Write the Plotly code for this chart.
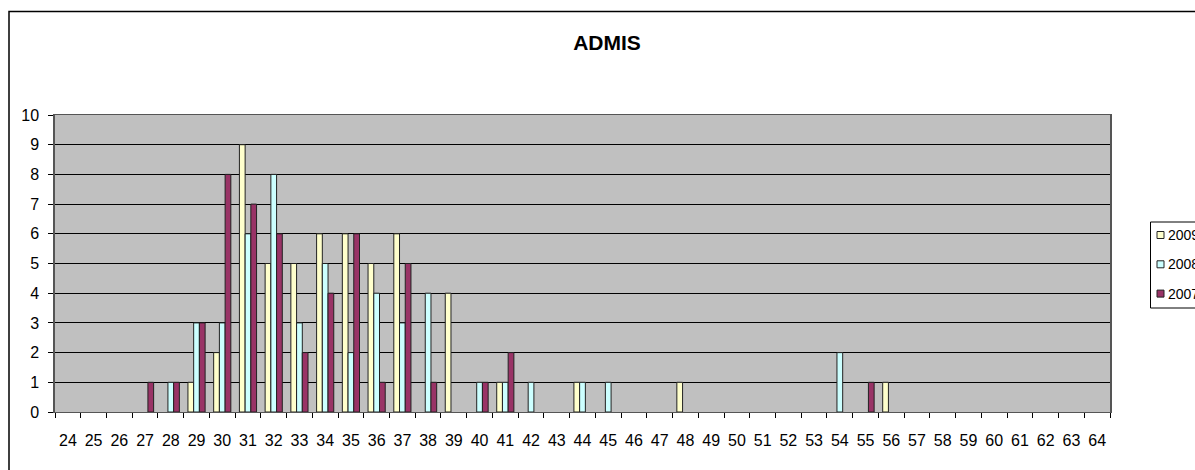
import plotly.graph_objects as go

# Age categories on the x axis
ages = ["24", "25", "26", "27", "28", "29", "30", "31", "32", "33", "34",
        "35", "36", "37", "38", "39", "40", "41", "42", "43", "44", "45",
        "46", "47", "48", "49", "50", "51", "52", "53", "54", "55", "56",
        "57", "58", "59", "60", "61", "62", "63", "64"]

# Number of admissions per age, one list per year
admis_2009 = [0, 0, 0, 0, 0, 1, 2, 9, 5, 5, 6, 6, 5, 6, 0, 4, 0, 1, 0, 0, 1,
              0, 0, 0, 1, 0, 0, 0, 0, 0, 0, 0, 1, 0, 0, 0, 0, 0, 0, 0, 0]
admis_2008 = [0, 0, 0, 0, 1, 3, 3, 6, 8, 3, 5, 2, 4, 3, 4, 0, 1, 1, 1, 0, 1,
              1, 0, 0, 0, 0, 0, 0, 0, 0, 2, 0, 0, 0, 0, 0, 0, 0, 0, 0, 0]
admis_2007 = [0, 0, 0, 1, 1, 3, 8, 7, 6, 2, 4, 6, 1, 5, 1, 0, 1, 2, 0, 0, 0,
              0, 0, 0, 0, 0, 0, 0, 0, 0, 0, 1, 0, 0, 0, 0, 0, 0, 0, 0, 0]

series = [
    ("2009", admis_2009, "#FFFFCC"),
    ("2008", admis_2008, "#CCFFFF"),
    ("2007", admis_2007, "#993366"),
]

FONT = "Liberation Sans, Arial, sans-serif"
OUTLINE = "#222222"

fig = go.Figure()
for name, values, color in series:
    fig.add_trace(go.Bar(
        x=ages,
        y=[v if v else None for v in values],
        name=name,
        showlegend=False,
        marker=dict(color=color, line=dict(color=OUTLINE, width=1)),
    ))

W, H = 1195, 470
L, R, T, B = 55, 85, 115, 58
pw, ph = W - L - R, H - T - B


def px_x(p):
    return (p - L) / pw


def px_y(p):
    return (H - B - p) / ph


shapes = [
    # chart frame
    dict(type="path", xref="paper", yref="paper",
         path=f"M {px_x(9)},{px_y(490)} L {px_x(9)},{px_y(11.5)} L {px_x(1210)},{px_y(11.5)}",
         line=dict(color="black", width=1.5), layer="above"),
    # legend box
    dict(type="rect", xref="paper", yref="paper",
         x0=px_x(1150.5), x1=px_x(1230), y0=px_y(308), y1=px_y(222),
         line=dict(color="black", width=1), fillcolor="white", layer="above"),
]
annotations = []

# legend entries: swatch + year label
entry_y0, entry_step = 235, 29.3
for i, (name, values, color) in enumerate(series):
    cy = entry_y0 + i * entry_step
    shapes.append(dict(
        type="rect", xref="paper", yref="paper",
        x0=px_x(1157), x1=px_x(1164), y0=px_y(cy + 3.5), y1=px_y(cy - 3.5),
        line=dict(color=OUTLINE, width=1), fillcolor=color, layer="above"))
    annotations.append(dict(
        text=name, xref="paper", yref="paper",
        x=px_x(1166), y=px_y(cy), xanchor="left", yanchor="middle",
        showarrow=False, font=dict(family=FONT, size=14, color="black")))

fig.update_layout(
    width=W, height=H,
    margin=dict(l=L, r=R, t=T, b=B, autoexpand=False),
    paper_bgcolor="white",
    plot_bgcolor="#C0C0C0",
    barmode="group",
    bargap=0.333,
    bargroupgap=0,
    showlegend=False,
    font=dict(family=FONT, color="black", size=16),
    title=dict(
        text="<b>ADMIS</b>",
        x=px_x(607), xref="paper", xanchor="center",
        y=1 - 43 / H, yref="container", yanchor="middle",
        font=dict(family=FONT, size=21, color="black"),
    ),
    xaxis=dict(
        type="category",
        tickson="boundaries",
        tickangle=0,
        ticks="outside", ticklen=5, tickcolor="black",
        showline=True, linecolor="#555555", linewidth=1, mirror=True,
        showgrid=False,
        tickfont=dict(family=FONT, size=16, color="black"),
        ticklabelstandoff=14,
    ),
    yaxis=dict(
        range=[0, 10], dtick=1,
        ticks="outside", ticklen=5, tickcolor="black",
        showline=True, linecolor="#555555", linewidth=1.5, mirror=True,
        showgrid=True, gridcolor="black", gridwidth=1,
        zeroline=False,
        tickfont=dict(family=FONT, size=16, color="black"),
        ticklabelstandoff=6,
    ),
    shapes=shapes,
    annotations=annotations,
)

fig.write_html("out.html")
